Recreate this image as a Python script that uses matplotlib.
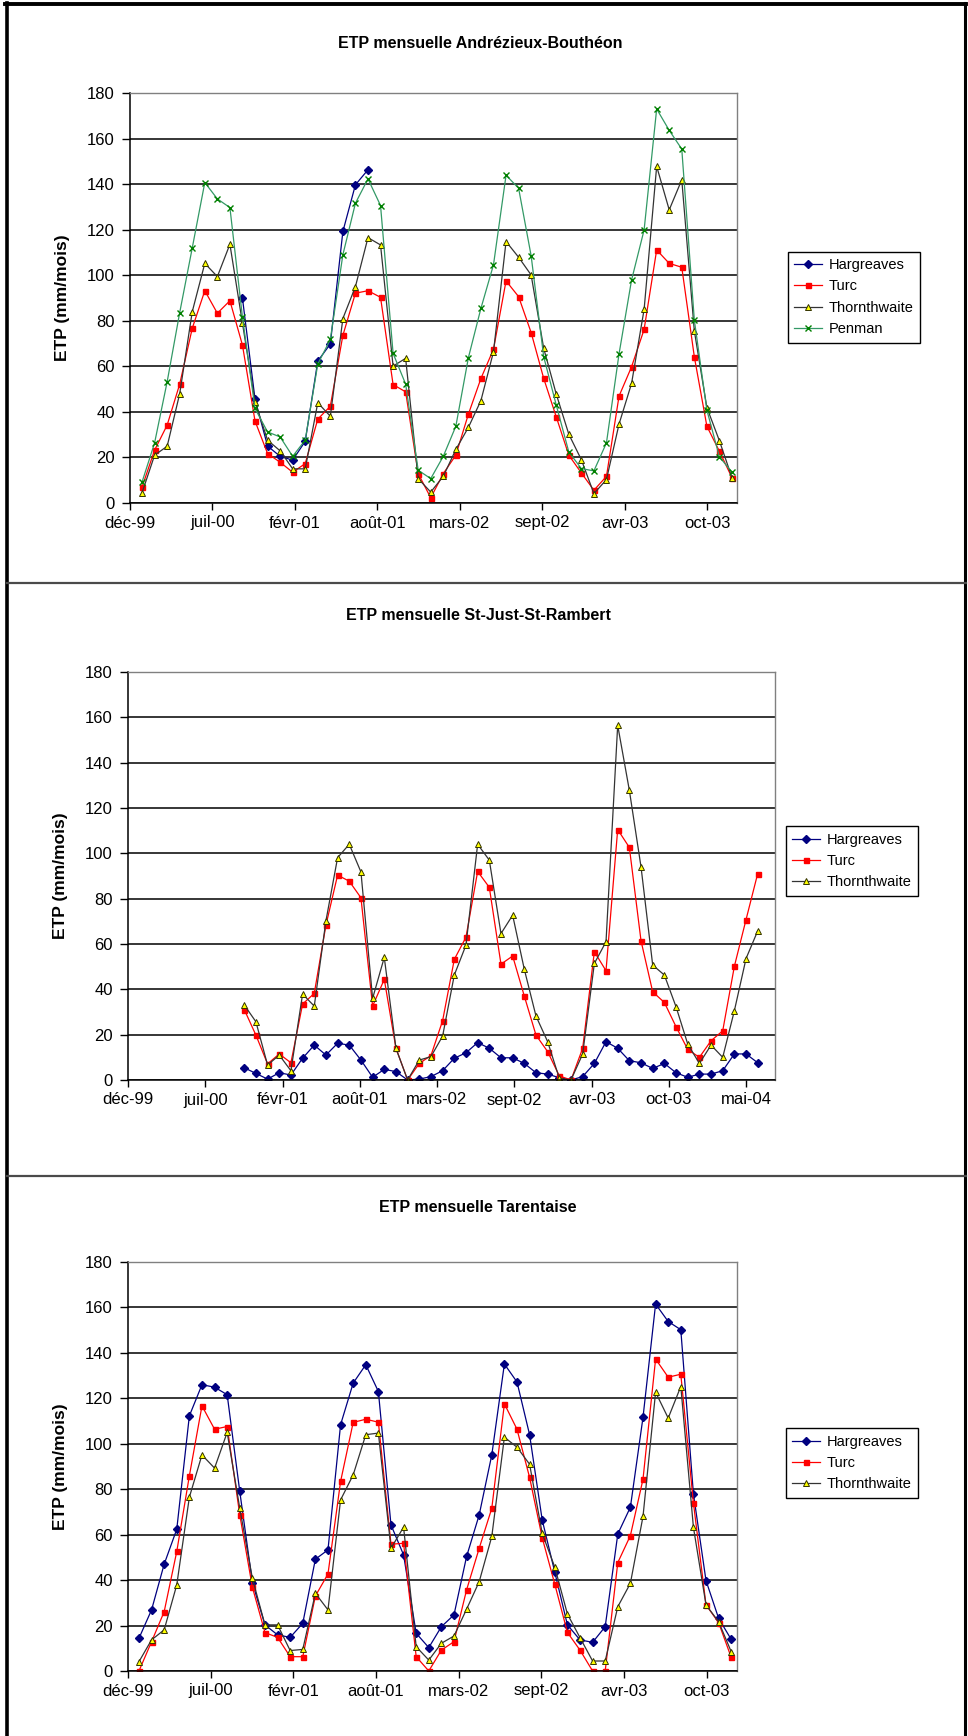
import numpy as np
import matplotlib
matplotlib.use("Agg")
import matplotlib.pyplot as plt
from matplotlib.lines import Line2D

plt.rcParams['font.family'] = ['Liberation Sans', 'DejaVu Sans']

# ---------------- data ----------------
nan = np.nan
# Andrézieux-Bouthéon (monthly, Jan 2000 .. Dec 2003)
ab_months = np.arange(48)
ab_hargreaves = [nan]*8 + [89.9, 45.6, 25, 20.5, 18.8, 27.1, 62.3, 69.8, 119.2, 139.7, 146.3] + [nan]*29
ab_turc = [7, 23.2, 34.2, 52.2, 76.7, 93.2, 83.3, 88.8, 69.3, 36, 21.7, 17.9, 13.5, 17.3, 36.8, 42.5,
           73.6, 92.1, 93.2, 90.3, 52, 48.8, 12.9, 2.3, 12.9, 21, 39, 54.7, 67.5, 97.5, 90.6, 74.8,
           54.7, 37.8, 21, 13.2, 5.6, 11.7, 46.9, 59.8, 76.2, 111.1, 105.2, 103.5, 64.2, 33.7, 22.7, 11.1]
ab_thornthwaite = [4.5, 21, 24.9, 48, 84, 105.2, 99.4, 113.6, 78.9, 44.4, 27.6, 22.9, 15, 15, 44, 38.1,
                   81, 95, 116.5, 113.3, 60.1, 63.5, 10.7, 4.8, 11.7, 23.5, 33.2, 45, 66.4, 114.8, 107.9, 100.1,
                   67.9, 47.8, 30.2, 19, 4.1, 10.3, 34.6, 52.5, 85, 147.8, 128.7, 141.9, 75.6, 41.9, 27.3, 11.1]
ab_penman = [9.2, 26.4, 53.2, 83.6, 112, 140.7, 133.5, 129.7, 81.5, 41.5, 31.2, 29, 20.5, 27.6, 61, 71.8,
             109, 131.6, 142.3, 130.6, 65.7, 52.2, 14.4, 10.7, 20.5, 33.7, 63.8, 85.5, 104.6, 143.9, 138.2, 108.5,
             64.2, 43, 22.4, 15.1, 14.1, 26.4, 65.4, 97.9, 119.9, 173, 163.6, 155.4, 80.3, 40.8, 20.2, 13.6]

# St-Just-St-Rambert (monthly, Oct 2000 .. Jun 2004)
sj_months = np.arange(9, 54)
sj_hargreaves = [5.4, 2.9, 0.4, 3.2, 2.2, 9.6, 15.4, 11, 16.2, 15.4, 8.8, 1.2, 4.7, 3.7, 0, 0.4, 1.5, 4.1,
                 9.6, 12, 16.5, 14, 9.8, 9.8, 7.3, 3.2, 2.6, 1, 0, 1.5, 7.3, 16.9, 14, 8.5, 7.6, 5.1, 7.3,
                 3.2, 1.2, 2.6, 2.6, 4.1, 11.5, 11.5, 7.6]
sj_turc = [31.1, 19.8, 7.1, 11.5, 7.6, 33.5, 38.2, 68.3, 90.4, 87.7, 80.4, 32.6, 44.4, 14, 0, 7.3, 10.8, 26.2,
           53.2, 63, 92, 85, 51.1, 54.7, 37, 19.8, 12.5, 1.8, 0, 14, 56.6, 48.2, 110.5, 102.6, 61.4, 38.9, 34.2,
           23.5, 13.5, 10, 17.3, 21.7, 50.2, 70.8, 91.1]
sj_thornthwaite = [33.1, 25.7, 6.6, 11, 4.1, 37.9, 32.6, 70.2, 98.1, 104, 91.8, 36, 54.1, 14, 0, 8.8, 10.3, 19.4,
                   46.3, 59.5, 104, 97, 64.6, 72.7, 48.8, 28.2, 16.9, 0.7, 0, 11.5, 51.4, 61, 156.5, 127.8, 94, 50.7,
                   46.3, 32.3, 15.9, 7.3, 15.4, 10, 30.6, 53.6, 65.8]

# Tarentaise (monthly, Jan 2000 .. Dec 2003)
ta_months = np.arange(48)
ta_hargreaves = [14.4, 26.9, 47, 62.4, 112.3, 126, 124.9, 121.6, 79, 38.9, 20.3, 15.9, 14.8, 21, 49.2, 53.3,
                 108.4, 126.7, 134.8, 123, 64.3, 51.1, 16.6, 10.3, 19.5, 24.7, 50.4, 68.7, 95.1, 135.1, 127.2, 104,
                 66.5, 43.5, 20.3, 13.7, 12.6, 19.5, 60.3, 72.1, 111.6, 161.5, 153.8, 150.2, 78, 39.8, 23.2, 13.9]
ta_turc = [0, 12.9, 26.1, 52.6, 85.9, 116.7, 106.4, 107.6, 68.7, 36.9, 16.9, 14.8, 6.3, 6.3, 33, 42.7,
           83.4, 109.4, 110.8, 109.5, 55.8, 56.2, 6.3, 0, 9.2, 12.9, 35.7, 54, 71.6, 117.6, 106.4, 85.2,
           58.7, 38.2, 17, 9.2, 0, 0, 47.7, 59.6, 84.4, 137.3, 129.3, 130.6, 74.1, 29.1, 21.3, 6]
ta_thornthwaite = [4.1, 13.7, 18.1, 37.9, 76.5, 95.1, 89.3, 105, 71.6, 40.8, 20.3, 20.3, 9, 9.5, 34.2, 26.9,
                   75.3, 86.3, 104, 104.7, 54, 63.3, 10.7, 4.8, 12.2, 15.4, 27.2, 39.3, 59.2, 102.9, 98.5, 91,
                   60.6, 45.7, 25.1, 14.7, 4.4, 4.4, 28.3, 38.6, 68, 122.7, 111.3, 125.2, 63.3, 29.1, 21.7, 8.5]

tick_labels_short = ['déc-99', 'juil-00', 'févr-01', 'août-01', 'mars-02', 'sept-02', 'avr-03', 'oct-03']
tick_labels_long = tick_labels_short + ['mai-04']

titles = ['ETP mensuelle Andrézieux-Bouthéon', 'ETP mensuelle St-Just-St-Rambert', 'ETP mensuelle Tarentaise']
ylabel = 'ETP (mm/mois)'

# ---------------- figure ----------------
W, H = 968, 1736
fig = plt.figure(figsize=(W / 100, H / 100), dpi=100)
fig.patch.set_facecolor('white')


def fx(x):
    return x / W


def fy(y):
    return 1 - y / H


def make_axes(l, t, r, b):
    return fig.add_axes([fx(l), fy(b), fx(r) - fx(l), fy(t) - fy(b)])


styles = {
    'Hargreaves': dict(color='#000080', marker='D', markersize=3.6, markerfacecolor='#000080',
                       markeredgecolor='#000080', lw=0.9),
    'Turc': dict(color='#FF0000', marker='s', markersize=3.6, markerfacecolor='#FF0000',
                 markeredgecolor='#FF0000', lw=0.9),
    'Thornthwaite': dict(color='#333333', marker='^', markersize=4.2, markerfacecolor='#FFFF00',
                         markeredgecolor='#333300', markeredgewidth=0.7, lw=0.9),
    'Penman': dict(color='#339966', marker='x', markersize=4.2, markeredgecolor='#008000',
                   markeredgewidth=1.0, lw=0.9),
}


def style_axes(ax, xmin, xmax, step, labels, ylab_right_px, left_px):
    ax.set_xlim(xmin, xmax)
    ax.set_ylim(0, 180)
    ax.set_yticks(np.arange(0, 181, 20))
    ax.set_xticks([xmin + k * step for k in range(len(labels))])
    ax.set_xticklabels(labels)
    ax.grid(axis='y', color='black', lw=1.1)
    ax.set_axisbelow(True)
    for s in ['top', 'right']:
        ax.spines[s].set_color('#808080')
        ax.spines[s].set_linewidth(1.0)
    for s in ['left', 'bottom']:
        ax.spines[s].set_color('black')
        ax.spines[s].set_linewidth(1.1)
    ax.tick_params(axis='y', direction='out', length=6, width=1.0, pad=5, labelsize=12)
    ax.tick_params(axis='x', direction='out', length=5, width=1.0, pad=4, labelsize=12)
    ax.set_ylabel(ylabel, fontsize=12.5, fontweight='bold')
    axw = ax.get_position().width * W
    ax.yaxis.set_label_coords((ylab_right_px - left_px) / axw, 0.5)


def add_legend(ax, cx, cy):
    leg = ax.legend(loc='center', bbox_to_anchor=(fx(cx), fy(cy)), bbox_transform=fig.transFigure,
                    frameon=True, fancybox=False, framealpha=1, edgecolor='black', fontsize=10.5,
                    borderpad=0.45, labelspacing=0.5, handlelength=1.9, handletextpad=0.45,
                    borderaxespad=0)
    leg.get_frame().set_linewidth(1.0)
    return leg


# ---- chart 1 ----
ax1 = make_axes(130, 93, 737, 503)
ax1.plot(ab_months, ab_hargreaves, label='Hargreaves', **styles['Hargreaves'])
ax1.plot(ab_months, ab_turc, label='Turc', **styles['Turc'])
ax1.plot(ab_months, ab_thornthwaite, label='Thornthwaite', **styles['Thornthwaite'])
ax1.plot(ab_months, ab_penman, label='Penman', **styles['Penman'])
style_axes(ax1, -0.96, 47.4, 6.57, tick_labels_short, 70, 130)
add_legend(ax1, 854, 297)

# ---- chart 2 ----
ax2 = make_axes(128, 672, 775, 1080)
ax2.plot(sj_months, sj_hargreaves, label='Hargreaves', **styles['Hargreaves'])
ax2.plot(sj_months, sj_turc, label='Turc', **styles['Turc'])
ax2.plot(sj_months, sj_thornthwaite, label='Thornthwaite', **styles['Thornthwaite'])
style_axes(ax2, -0.96, 54.48, 6.62, tick_labels_long, 68, 128)
add_legend(ax2, 852, 861)

# ---- chart 3 ----
ax3 = make_axes(128, 1262, 737, 1671)
ax3.plot(ta_months, ta_hargreaves, label='Hargreaves', **styles['Hargreaves'])
ax3.plot(ta_months, ta_turc, label='Turc', **styles['Turc'])
ax3.plot(ta_months, ta_thornthwaite, label='Thornthwaite', **styles['Thornthwaite'])
style_axes(ax3, -0.87, 47.46, 6.56, tick_labels_short, 68, 128)
add_legend(ax3, 852, 1463)

# ---- titles ----
for (cx, cy), t in zip([(480, 44), (478, 616), (478, 1208)], titles):
    fig.text(fx(cx), fy(cy), t, ha='center', va='center', fontsize=11.5, fontweight='bold')

# ---- frame / separators ----
def hline(y, x0, x1, color, lw):
    fig.add_artist(Line2D([fx(x0), fx(x1)], [fy(y), fy(y)], transform=fig.transFigure, color=color, lw=lw))


def vline(x, y0, y1, color, lw):
    fig.add_artist(Line2D([fx(x), fx(x)], [fy(y0), fy(y1)], transform=fig.transFigure, color=color, lw=lw))


hline(4, 5, 966, 'black', 2.8)
vline(7, 3, H, 'black', 2.6)
vline(965, 3, H, 'black', 2.2)
hline(583, 7, 966, '#4a4a4a', 1.6)
hline(1176, 7, 966, '#4a4a4a', 1.6)

fig.savefig('out.png', dpi=100, facecolor='white')
